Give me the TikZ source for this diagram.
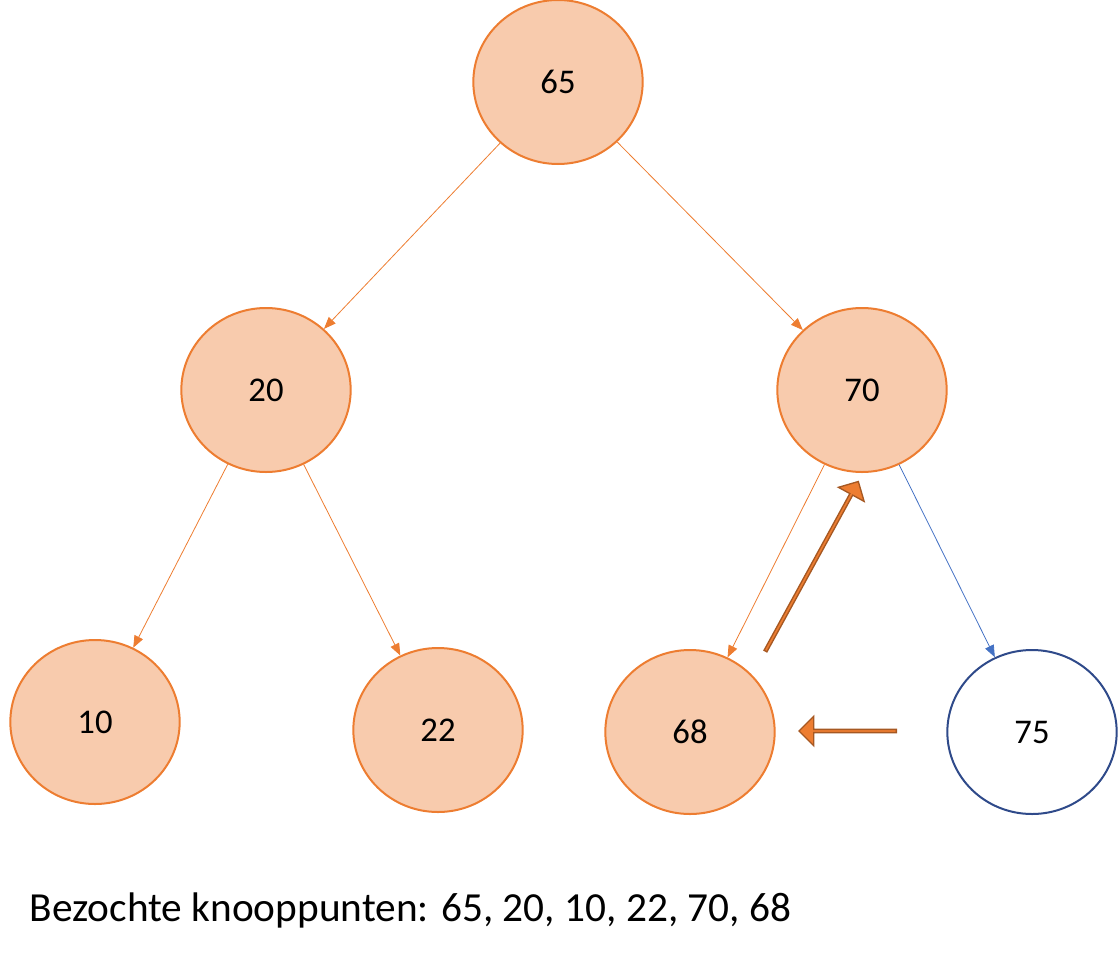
\documentclass[tikz,border=0pt]{standalone}
\usepackage{fontspec}
\setmainfont{Carlito}
\usetikzlibrary{shapes.geometric,shapes.arrows,arrows.meta}
\definecolor{nfill}{HTML}{F8CBAD}
\definecolor{nline}{HTML}{ED7D31}
\definecolor{bline}{HTML}{2F4A8A}
\definecolor{bedge}{HTML}{4472C4}
\begin{document}
\begin{tikzpicture}[x=0.75pt,y=-0.75pt,
  nd/.style={ellipse,draw=nline,fill=nfill,line width=1.5pt,minimum width=127pt,minimum height=123pt,inner sep=0pt,font=\fontsize{26}{30}\selectfont},
  wn/.style={nd,fill=white,draw=bline},
  ed/.style={draw=nline,line width=0.6pt,-{Triangle[length=9pt,width=7pt]}},
  be/.style={draw=bedge,line width=0.6pt,-{Triangle[length=9pt,width=7pt]}},
  ba/.style={single arrow,draw=nline!70!black,fill=nline,line width=1pt,minimum width=22pt,single arrow head extend=4pt,single arrow head indent=0pt,inner sep=0pt,single arrow tip angle=90}]
\useasboundingbox (0,0) rectangle (1120,960);
\node[nd] (n65) at (558,82) {65};
\node[nd] (n20) at (266,390) {20};
\node[nd] (n70) at (862,390) {70};
\node[nd] (n10) at (95,722) {10};
\node[nd] (n22) at (438,730) {22};
\node[nd] (n68) at (690,732) {68};
\node[wn] (n75) at (1032,732) {75};
\draw[ed] (n65) -- (n20);
\draw[ed] (n65) -- (n70);
\draw[ed] (n20) -- (n10);
\draw[ed] (n20) -- (n22);
\draw[ed] (n70) -- (n68);
\draw[be] (n70) -- (n75);
\coordinate (a1s) at (765,652);
\coordinate (a1e) at (858,482);
\node[ba,minimum height=145pt,rotate=61.3] (arr1) at (811.5,567) {};
\node[ba,minimum height=73pt,rotate=180] (arr2) at (848.5,731) {};
\node[anchor=west,font=\fontsize{31}{36}\selectfont] (cap) at (25,910) {Bezochte knooppunten: 65, 20, 10, 22, 70, 68};
\end{tikzpicture}
\end{document}
